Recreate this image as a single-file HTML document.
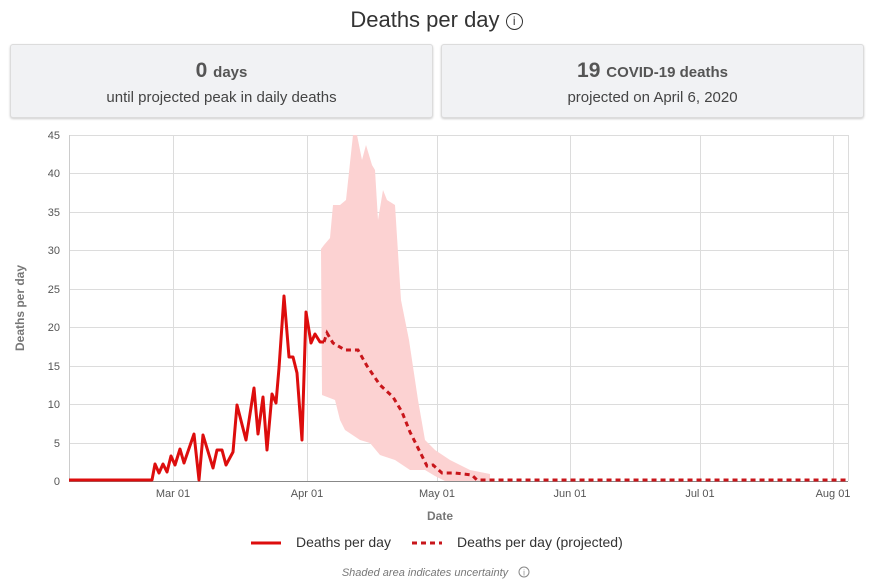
<!DOCTYPE html>
<html><head><style>
body{margin:0;width:873px;height:584px;background:#fff;font-family:"Liberation Sans",sans-serif;overflow:hidden;position:relative}
.box{position:absolute;top:44px;height:72px;background:#f1f2f4;border:1px solid #dcdcdc;border-radius:3px;text-align:center;color:#555;box-shadow:0 1px 2px #ccc}
.b1{font-size:21px;font-weight:bold;color:#555;margin-top:14px;line-height:24px}
.b1 span{font-size:15px}
.b2{font-size:15px;margin-top:4px;color:#444;line-height:18px}
</style></head><body>
<div style="position:absolute;top:7px;left:0;width:873px;text-align:center;font-size:22px;color:#333">Deaths per day <span style="display:inline-block;width:15px;height:15px;border:1.3px solid #333;border-radius:50%;font-size:12px;line-height:15px;vertical-align:2px">i</span></div>
<div class="box" style="left:10px;width:421px"><div class="b1">0 <span>days</span></div><div class="b2">until projected peak in daily deaths</div></div>
<div class="box" style="left:441px;width:421px"><div class="b1">19 <span>COVID-19 deaths</span></div><div class="b2">projected on April 6, 2020</div></div>
<svg width="873" height="584" style="position:absolute;left:0;top:0" font-family="Liberation Sans, sans-serif">
<g stroke="#dcdcdc" stroke-width="1">
<line x1="69" x2="848" y1="135.5" y2="135.5"/><line x1="69" x2="848" y1="173.5" y2="173.5"/><line x1="69" x2="848" y1="212.5" y2="212.5"/><line x1="69" x2="848" y1="250.5" y2="250.5"/><line x1="69" x2="848" y1="289.5" y2="289.5"/><line x1="69" x2="848" y1="327.5" y2="327.5"/><line x1="69" x2="848" y1="366.5" y2="366.5"/><line x1="69" x2="848" y1="404.5" y2="404.5"/><line x1="69" x2="848" y1="443.5" y2="443.5"/>
<line x1="173.5" x2="173.5" y1="135" y2="481"/><line x1="307.5" x2="307.5" y1="135" y2="481"/><line x1="437.5" x2="437.5" y1="135" y2="481"/><line x1="570.5" x2="570.5" y1="135" y2="481"/><line x1="700.5" x2="700.5" y1="135" y2="481"/><line x1="833.5" x2="833.5" y1="135" y2="481"/><line x1="848.5" x2="848.5" y1="135" y2="481"/>
</g>
<line x1="69.5" x2="69.5" y1="135" y2="481" stroke="#ccc"/>
<line x1="69" x2="848" y1="481.5" y2="481.5" stroke="#888"/>
<g fill="#555" font-size="11" text-anchor="end">
<text x="60" y="139">45</text><text x="60" y="177">40</text><text x="60" y="216">35</text><text x="60" y="254">30</text><text x="60" y="293">25</text><text x="60" y="331">20</text><text x="60" y="370">15</text><text x="60" y="408">10</text><text x="60" y="447">5</text><text x="60" y="485">0</text>
</g>
<g fill="#555" font-size="11" text-anchor="middle">
<text x="173" y="497">Mar 01</text><text x="307" y="497">Apr 01</text><text x="437" y="497">May 01</text><text x="570" y="497">Jun 01</text><text x="700" y="497">Jul 01</text><text x="833" y="497">Aug 01</text>
</g>
<text x="440" y="520" fill="#777" font-size="12" font-weight="bold" text-anchor="middle">Date</text>
<text transform="translate(24,308) rotate(-90)" fill="#777" font-size="12" font-weight="bold" text-anchor="middle">Deaths per day</text>
<polygon fill="#fcd2d2" points="321,249 324,245 330,238 333,205 340,205 346,200 353,135 357,135 362,160 366,145 372,165 375,170 378,220 383,190 387,200 395,205 401,300 409,340 418,400 425,440 435,450 450,460 470,470 490,474 490,481 445,481 435,476 425,470 410,470 395,460 380,455 370,443 360,440 345,430 340,420 335,400 322,395"/>
<polyline fill="none" stroke="#dd0d0d" stroke-width="3" stroke-linejoin="round" points="69,480 152,480 155,464 159,473 163,464 167,472 171,456 175,465 180,449 184,463 194,434 199,480 203,435 213,468 217,450 222,450 226,465 233,452 237,405 246,440 254,388 258,434 263,397 267,450 272,394 276,403 279,368 284,296 289,357 293,357 297,373 302,440 306,312 311,343 315,334 320,342 324,342"/>
<polyline fill="none" stroke="#c8161b" stroke-width="3" stroke-dasharray="5,4" points="324,342 327,333 333,343 345,350 358,350 367,366 380,385 393,397 402,412 410,432 420,452 427,466 433,465 442,473 455,473 472,475 477,480 848,480"/>
<line x1="251" x2="281" y1="543" y2="543" stroke="#dd0d0d" stroke-width="3"/>
<text x="296" y="547" font-size="14" fill="#333">Deaths per day</text>
<line x1="412" x2="442" y1="543" y2="543" stroke="#c8161b" stroke-width="3" stroke-dasharray="5,4"/>
<text x="457" y="547" font-size="14" fill="#333">Deaths per day (projected)</text>
<text x="425" y="576" font-size="11" fill="#777" font-style="italic" text-anchor="middle">Shaded area indicates uncertainty</text>
<circle cx="524" cy="572" r="5" fill="none" stroke="#888"/><text x="524" y="575.5" font-size="8" fill="#888" text-anchor="middle">i</text>
</svg>
</body></html>
